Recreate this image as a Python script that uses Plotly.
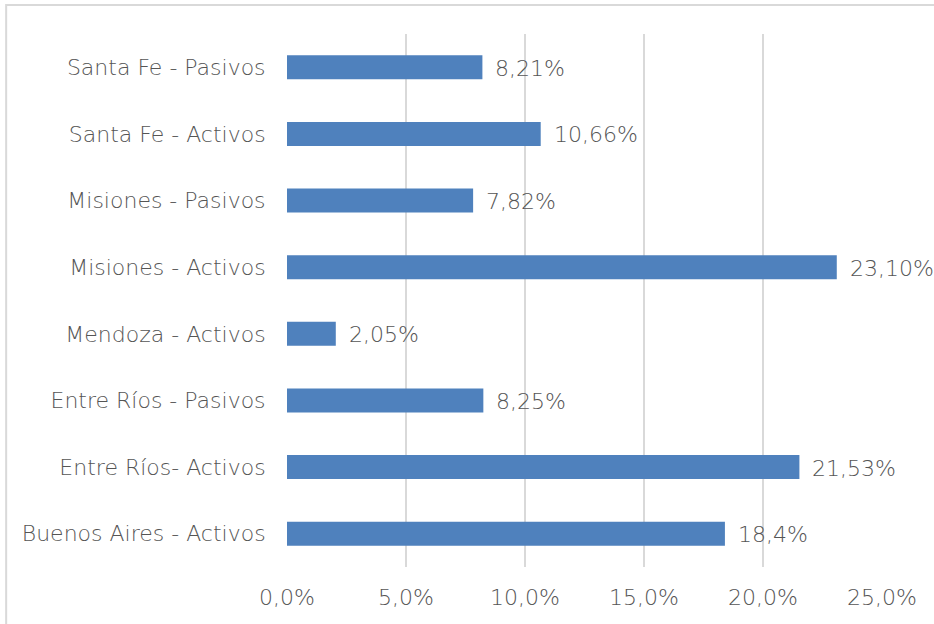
import plotly.graph_objects as go

categories = ["Buenos Aires - Activos", "Entre Ríos- Activos", "Entre Ríos - Pasivos",
              "Mendoza - Activos", "Misiones - Activos", "Misiones - Pasivos",
              "Santa Fe - Activos", "Santa Fe - Pasivos"]
values = [18.4, 21.53, 8.25, 2.05, 23.10, 7.82, 10.66, 8.21]
value_labels = ["18,4%", "21,53%", "8,25%", "2,05%", "23,10%", "7,82%", "10,66%", "8,21%"]
tick_vals = [0, 5, 10, 15, 20, 25]
tick_text = ["0,0%", "5,0%", "10,0%", "15,0%", "20,0%", "25,0%"]

FONT = "DejaVu Sans"
GREY = "#555555"
FS = 22
W = 200

fig = go.Figure()
fig.add_trace(go.Bar(
    y=categories, x=values, orientation="h",
    marker=dict(color="#4f81bd", line=dict(width=0)),
    width=0.36,
    hoverinfo="skip",
))

for c, v, t in zip(categories, values, value_labels):
    fig.add_annotation(x=v, y=c, text=t, showarrow=False, xanchor="left",
                       xshift=11, yshift=-1,
                       font=dict(family=FONT, size=FS, color=GREY, weight=W))

fig.add_shape(type="rect", xref="paper", yref="paper",
              x0=-0.472, x1=1.2, y0=-0.2, y1=1.0544,
              line=dict(color="#d9d9d9", width=2), layer="below")

fig.update_layout(
    width=934, height=624,
    margin=dict(l=287, r=52, t=34, b=57),
    paper_bgcolor="white", plot_bgcolor="white",
    showlegend=False,
    font=dict(family=FONT, size=FS, color=GREY, weight=W),
    xaxis=dict(range=[0, 25], tickvals=tick_vals, ticktext=tick_text,
               showgrid=True, gridcolor="#d9d9d9", gridwidth=1.5,
               zeroline=False, showline=False, automargin=False,
               ticks="outside", ticklen=11, tickcolor="rgba(0,0,0,0)",
               tickfont=dict(family=FONT, size=FS, color=GREY, weight=W),
               fixedrange=True),
    yaxis=dict(showgrid=False, zeroline=False, showline=False, automargin=False,
               ticks="outside", ticklen=16, tickcolor="rgba(0,0,0,0)",
               tickfont=dict(family=FONT, size=FS, color=GREY, weight=W),
               range=[-0.5, 7.5], fixedrange=True),
)

fig.write_html("out.html", config={"displayModeBar": False},
               post_script="document.body.style.margin='0px';")
